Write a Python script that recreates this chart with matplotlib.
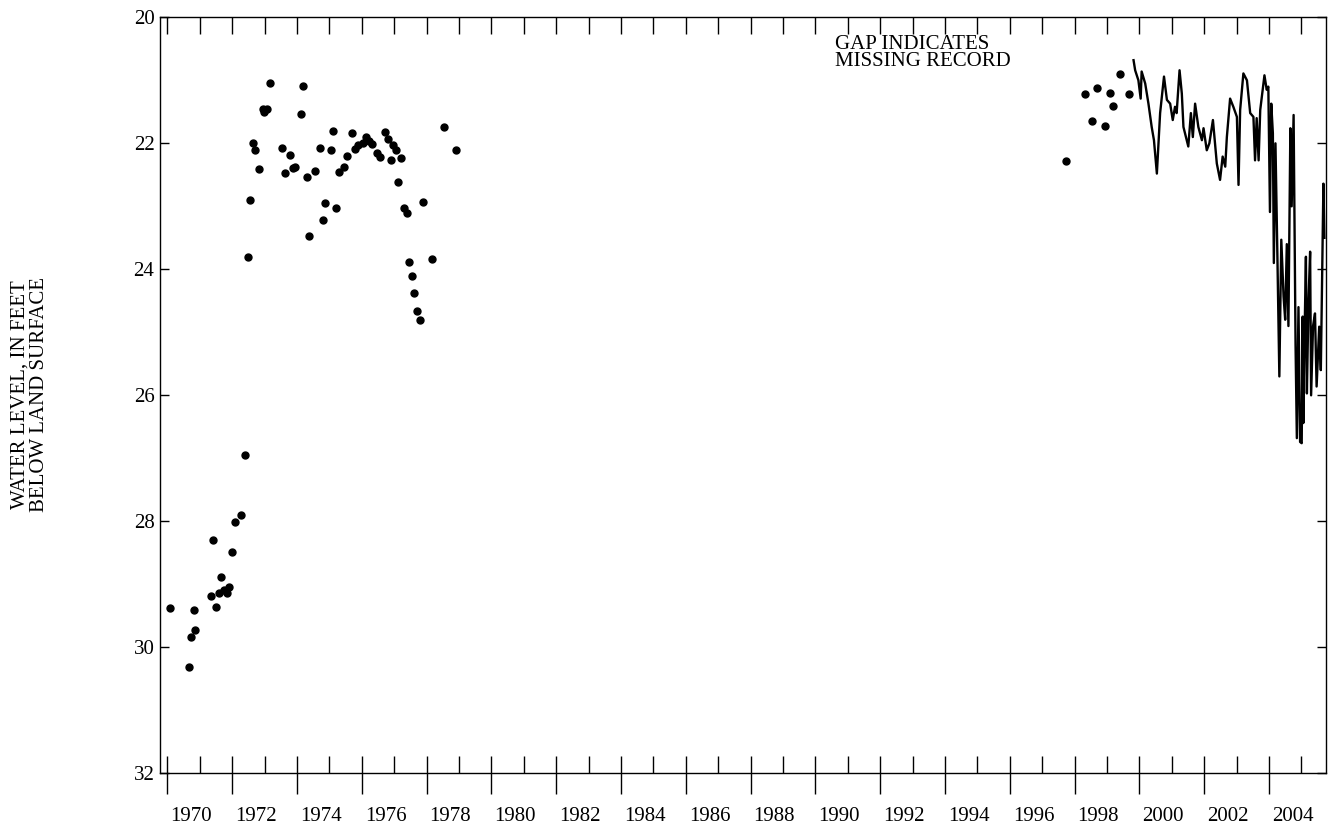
import numpy as np
import matplotlib
matplotlib.use("Agg")
import matplotlib.pyplot as plt
import matplotlib.transforms as mtransforms

plt.rcParams['font.family'] = ['Liberation Serif', 'DejaVu Serif']
plt.rcParams['font.size'] = 15

# Periodic measurements (dots), decimal year and feet below land surface
dot_years = [1970.08, 1970.67, 1970.73, 1970.81, 1970.86, 1971.34, 1971.41, 1971.49,
             1971.59, 1971.66, 1971.76, 1971.84, 1971.91, 1972.01, 1972.09, 1972.27,
             1972.40, 1972.48, 1972.55, 1972.65, 1972.71, 1972.84, 1972.94, 1972.99,
             1973.09, 1973.18, 1973.54, 1973.63, 1973.79, 1973.87, 1973.95, 1974.13,
             1974.19, 1974.30, 1974.37, 1974.55, 1974.71, 1974.80, 1974.88, 1975.05,
             1975.11, 1975.22, 1975.29, 1975.46, 1975.54, 1975.70, 1975.80, 1975.89,
             1976.05, 1976.14, 1976.23, 1976.33, 1976.46, 1976.57, 1976.72, 1976.80,
             1976.89, 1976.98, 1977.05, 1977.13, 1977.20, 1977.30, 1977.39, 1977.46,
             1977.54, 1977.61, 1977.72, 1977.79, 1977.90, 1978.16, 1978.55, 1978.92,
             1997.73, 1998.32, 1998.55, 1998.70, 1998.95, 1999.10, 1999.20, 1999.39,
             1999.68]
dot_levels = [29.37, 30.31, 29.84, 29.41, 29.73, 29.19, 28.30, 29.36,
              29.14, 28.88, 29.09, 29.13, 29.04, 28.49, 28.01, 27.90,
              26.95, 23.80, 22.90, 21.99, 22.10, 22.40, 21.46, 21.51,
              21.46, 21.04, 22.07, 22.47, 22.18, 22.39, 22.38, 21.54,
              21.09, 22.53, 23.47, 22.44, 22.07, 23.21, 22.95, 22.10,
              21.81, 23.02, 22.45, 22.38, 22.20, 21.83, 22.09, 22.02,
              22.00, 21.90, 21.97, 22.01, 22.16, 22.21, 21.82, 21.93,
              22.27, 22.03, 22.10, 22.61, 22.23, 23.02, 23.10, 23.88,
              24.10, 24.38, 24.66, 24.81, 22.93, 23.84, 21.74, 22.10,
              22.28, 21.22, 21.64, 21.12, 21.73, 21.20, 21.41, 20.90,
              21.21]

# Continuous record (line)
line_years = [1999.82, 1999.87, 1999.97, 2000.04, 2000.07, 2000.18, 2000.28, 2000.38,
              2000.45, 2000.54, 2000.59, 2000.64, 2000.76, 2000.85, 2000.95, 2001.03,
              2001.10, 2001.15, 2001.24, 2001.31, 2001.36, 2001.51, 2001.59, 2001.65,
              2001.72, 2001.82, 2001.93, 2001.98, 2002.08, 2002.16, 2002.27, 2002.39,
              2002.49, 2002.57, 2002.65, 2002.70, 2002.80, 2002.90, 2003.01, 2003.06,
              2003.11, 2003.21, 2003.32, 2003.42, 2003.52, 2003.57, 2003.62, 2003.68,
              2003.73, 2003.86, 2003.93, 2003.98, 2004.03, 2004.07, 2004.12, 2004.15,
              2004.20, 2004.26, 2004.32, 2004.38, 2004.45, 2004.50, 2004.55, 2004.60,
              2004.66, 2004.70, 2004.76, 2004.82, 2004.86, 2004.91, 2004.96, 2005.01,
              2005.04, 2005.06, 2005.10, 2005.14, 2005.17, 2005.22, 2005.27, 2005.30,
              2005.36, 2005.42, 2005.47, 2005.55, 2005.60, 2005.63, 2005.68, 2005.71]
line_levels = [20.68, 20.84, 21.00, 21.29, 20.86, 21.05, 21.37, 21.74,
               21.95, 22.48, 22.00, 21.52, 20.94, 21.31, 21.37, 21.63,
               21.42, 21.52, 20.84, 21.21, 21.74, 22.05, 21.52, 21.90,
               21.37, 21.74, 21.95, 21.76, 22.11, 22.00, 21.63, 22.32,
               22.58, 22.21, 22.37, 21.90, 21.29, 21.42, 21.58, 22.66,
               21.47, 20.89, 21.00, 21.52, 21.58, 22.27, 21.60, 22.27,
               21.47, 20.92, 21.15, 21.10, 23.09, 21.37, 21.84, 23.90,
               22.00, 23.80, 25.70, 23.53, 24.43, 24.80, 23.60, 24.90,
               21.76, 23.00, 21.55, 25.20, 26.68, 24.60, 26.74, 26.76,
               24.75, 26.44, 25.00, 23.80, 25.97, 24.50, 23.72, 26.00,
               24.90, 24.70, 25.86, 24.91, 25.60, 24.50, 22.64, 23.50]

label_years = list(range(1970, 2005, 2))
level_ticks = [20, 22, 24, 26, 28, 30, 32]

fig = plt.figure(figsize=(13.28, 8.26), dpi=100)
ax = fig.add_axes([0.1205, 0.0638, 0.878, 0.9152])

ax.plot(dot_years, dot_levels, 'o', color='black', markersize=5, linestyle='none')
ax.plot(line_years, line_levels, color='black', linewidth=1.7)

ax.set_xlim(1969.775, 2005.76)
ax.set_ylim(32, 20)

# x axis: short inward ticks each year, long outward ticks on even years
ax.xaxis.remove_overlapping_locs = False
ax.set_xticks(range(1970, 2006), minor=True)
ax.tick_params(axis='x', which='major', direction='out', length=15, width=1,
               pad=9, top=False, labelsize=15)
ax.tick_params(axis='x', which='minor', direction='in', length=12, width=1,
               top=True, bottom=True)
ax.tick_params(axis='y', direction='in', length=6.5, width=1, left=True,
               right=True, pad=4, labelsize=15)
ax.set_xticks(label_years)
ax.set_xticklabels([str(y) for y in label_years], fontsize=15, ha='left')
ax.set_yticks(level_ticks)
ax.set_yticklabels([str(v) for v in level_ticks], fontsize=15)

offset = mtransforms.ScaledTranslation(3 / 100, 0, fig.dpi_scale_trans)
for lab in ax.get_xticklabels():
    lab.set_transform(lab.get_transform() + offset)

for s in ax.spines.values():
    s.set_linewidth(1.0)

ax.text(1990.61, 20.28, 'GAP INDICATES\nMISSING RECORD', fontsize=15,
        ha='left', va='top', linespacing=0.85)

fig.text(30 / 1328, 1 - 395 / 826, 'WATER LEVEL, IN FEET\nBELOW LAND SURFACE',
         rotation=90, ha='center', va='center', fontsize=15, linespacing=1.0)

fig.savefig('out.png', dpi=100)
